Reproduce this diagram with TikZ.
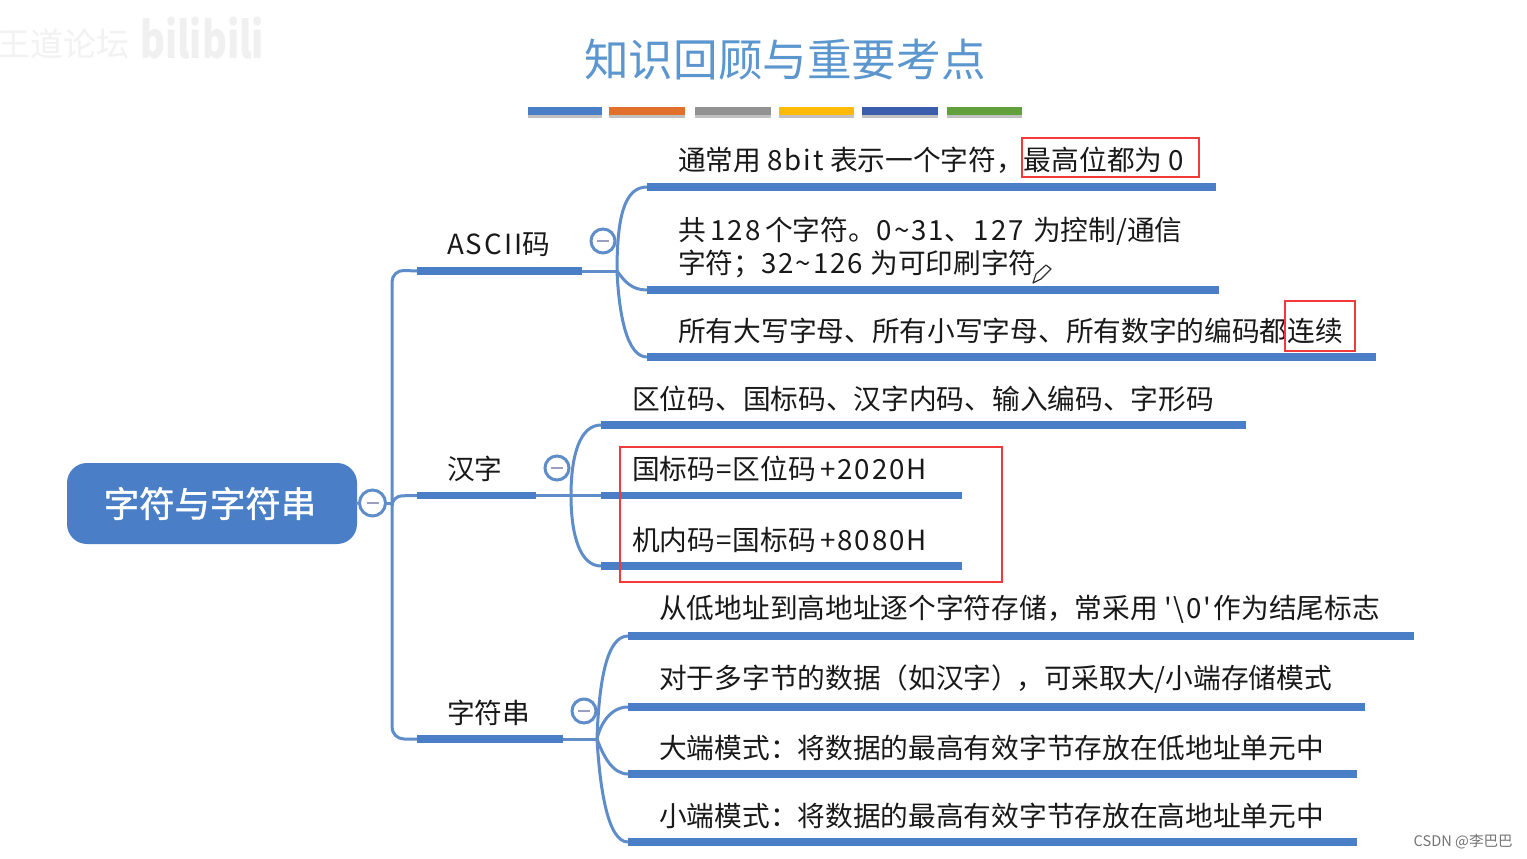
\documentclass[tikz,border=0pt]{standalone}
\usepackage{fontspec}
\setmainfont{Noto Sans CJK SC}
\newfontfamily\ls[LetterSpace=7]{Noto Sans CJK SC}
\usetikzlibrary{shadows}
\definecolor{mapblue}{HTML}{4A7FC8}
\definecolor{linkblue}{HTML}{5F8DC9}
\definecolor{titleblue}{HTML}{5B96CF}
\definecolor{boxred}{HTML}{F23A3A}
\definecolor{minusgray}{HTML}{9A9FC0}
\tikzset{
  x=1pt,y=-1pt,
  leaf/.style={anchor=west,inner sep=0pt,font=\fontsize{27.7}{33}\selectfont,align=left,text=black!90},
  branch/.style={anchor=west,inner sep=0pt,font=\fontsize{27.7}{33}\selectfont,text=black!90},
  bar/.style={line width=7.5pt,draw=mapblue},
  link/.style={line width=3pt,draw=linkblue,line cap=round},
  toggle/.style={circle,draw=linkblue,line width=3pt,fill=white,minimum size=24pt,inner sep=0pt},
  redbox/.style={draw=boxred,line width=2.8pt},
  swatch/.style={minimum height=8pt,inner sep=0pt,anchor=west,drop shadow={shadow xshift=0pt,shadow yshift=-2.5pt,opacity=.4,fill=black!60}},
}
\newcommand{\minusmark}[1]{\draw[line width=2.6pt,draw=minusgray] ([xshift=-6pt]#1.center) -- ([xshift=6pt]#1.center);}
\begin{document}
\begin{tikzpicture}
\useasboundingbox (0,0) rectangle (1527,859);
\fill[white] (0,0) rectangle (1527,859);
% watermarks
\node[inner sep=0pt,anchor=west,text=black!5,font=\fontsize{33}{33}\selectfont] (wm1) at (-3,44) {王道论坛};
\node[inner sep=0pt,anchor=west,text=black!6,xscale=.76,font=\fontsize{50}{50}\selectfont\bfseries] (wm2) at (140,38) {bilibili};
\node[inner sep=0pt,anchor=east,text=black!55,font=\fontsize{14.6}{14.6}\selectfont] (wm3) at (1513,842) {CSDN @李巴巴};
% title
\node[inner sep=0pt,text=titleblue,font=\fontsize{44.6}{50}\selectfont] (title) at (785,60) {知识回顾与重要考点};
\node[swatch,fill=mapblue,minimum width=74pt] (s1) at (528,111) {};
\node[swatch,fill={rgb,255:red,224;green,112;blue,44},minimum width=76pt] (s2) at (609,111) {};
\node[swatch,fill={rgb,255:red,146;green,146;blue,146},minimum width=76pt] (s3) at (695,111) {};
\node[swatch,fill={rgb,255:red,255;green,186;blue,10},minimum width=75pt] (s4) at (779,111) {};
\node[swatch,fill={rgb,255:red,58;green,94;blue,172},minimum width=76pt] (s5) at (862,111) {};
\node[swatch,fill={rgb,255:red,98;green,160;blue,62},minimum width=75pt] (s6) at (947,111) {};
% coordinates
\coordinate (t1) at (392,270);
\coordinate (j0) at (392,496);
\coordinate (t3) at (392,739);
\coordinate (a0) at (417,271); \coordinate (a1) at (582,271); \coordinate (aj) at (617,271);
\coordinate (h0) at (417,495.5); \coordinate (h1) at (536,495.5); \coordinate (hj) at (571,495.5);
\coordinate (c0) at (417,739); \coordinate (c1) at (563,739); \coordinate (cj) at (597,739);
\coordinate (a10) at (647,187); \coordinate (a11) at (1216,187);
\coordinate (a20) at (647,290); \coordinate (a21) at (1219,290);
\coordinate (a30) at (647,357); \coordinate (a31) at (1376,357);
\coordinate (h10) at (601,425); \coordinate (h11) at (1246,425);
\coordinate (h20) at (601,495.5); \coordinate (h21) at (962,495.5);
\coordinate (h30) at (601,566); \coordinate (h31) at (962,566);
\coordinate (c10) at (628,636); \coordinate (c11) at (1414,636);
\coordinate (c20) at (628,707); \coordinate (c21) at (1365,707);
\coordinate (c30) at (628,774); \coordinate (c31) at (1357,774);
\coordinate (c40) at (628,842); \coordinate (c41) at (1357,842);
% root
\node[fill=mapblue,rounded corners=20pt,minimum width=290pt,minimum height=81pt,inner sep=0pt] (root) at (212,503.5) {};
\node[inner sep=0pt,text=white,font=\fontsize{35.4}{36}\selectfont\addfontfeatures{FakeBold=1.2}] (roottext) at (210,503.5) {字符与字符串};
\node[toggle,minimum size=26pt] (rt) at (372.5,503) {};
% links
\draw[link] (root.east) -- (rt.west);
\draw[link] (rt.east) -- (j0 |- rt.east);
\draw[link,rounded corners=12pt] (a0) -- (t1) -- (t3) -- (c0);
\draw[link,rounded corners=10pt] (392,503) -- (392,496) -- (h0);
\draw[link] (a1) -- (aj);
\draw[link] (h1) -- (h20);
\draw[link] (c1) -- (cj);
\draw[link] (aj) .. controls (617,215) and (625,187) .. (a10);
\draw[link] (aj) .. controls (625,282) and (632,290) .. (a20);
\draw[link] (aj) .. controls (619,315) and (627,357) .. (a30);
\draw[link] (hj) .. controls (571,455) and (580,425) .. (h10);
\draw[link] (hj) .. controls (571,535) and (580,566) .. (h30);
\draw[link] (cj) .. controls (599,680) and (607,636) .. (c10);
\draw[link] (cj) .. controls (600,725) and (610,707) .. (c20);
\draw[link] (cj) .. controls (603,755) and (612,774) .. (c30);
\draw[link] (cj) .. controls (600,790) and (608,842) .. (c40);
% bars
\foreach \p/\q in {a0/a1,h0/h1,c0/c1,a10/a11,a20/a21,a30/a31,h10/h11,h20/h21,h30/h31,c10/c11,c20/c21,c30/c31,c40/c41}{\draw[bar] (\p) -- (\q);}
% toggles
\minusmark{rt}
\node[toggle] (ta) at (603,241) {}; \minusmark{ta}
\node[toggle] (th) at (557,468) {}; \minusmark{th}
\node[toggle] (tc) at (584,711) {}; \minusmark{tc}
% branch labels
\node[branch] (ascii) at (447,244.5) {{\ls ASCII}码};
\node[branch] (hanzi) at (447,468.5) {汉字};
\node[branch] (zfc) at (447,712.5) {字符串};
% leaves
\node[leaf] (l1) at (678,160.5) {通常用 {\ls 8bit} 表示一个字符，最高位都为 {\ls 0}};
\node[leaf] (l2) at (678,247.5) {共{\ls\,128\,}个字符。\kern1pt{\ls 0\textasciitilde 31}、\kern2pt{\ls 127}\kern3pt\ 为控制/通信\\字符；{\ls 32\textasciitilde 126}\kern1pt\ 为可印刷字符};
\node[leaf] (l3) at (678,330.5) {所有大写字母、所有小写字母、所有数字的编码都连续};
\node[leaf] (l4) at (632,398.5) {区位码、国标码、汉字内码、输入编码、字形码};
\node[leaf] (l5) at (632,468.5) {国标码\kern1pt{\ls =}\kern1pt 区位码{\ls\,+2020H}};
\node[leaf] (l6) at (632,539.5) {机内码\kern1pt{\ls =}\kern1pt 国标码{\ls\,+8080H}};
\node[leaf] (l7) at (659,609.5) {从低地址到高地址逐个字符存储，常采用 {\ls '\textbackslash 0'}\kern-4pt\ 作为结尾标志};
\node[leaf] (l8) at (659,679.5) {对于多字节的数据（如汉字）\kern-3pt ，可采取大/小端存储模式};
\node[leaf] (l9) at (659,747.5) {大端模式：将数据的最高有效字节存放在低地址单元中};
\node[leaf] (l10) at (659,815.5) {小端模式：将数据的最高有效字节存放在高地址单元中};
% red boxes
\draw[redbox] (1022,138) rectangle (1199,177);
\draw[redbox] (1285,301) rectangle (1355,351);
\draw[redbox] (620,447) rectangle (1002,582);
% pen cursor
\draw[line width=1.2pt,draw=black!80,fill=white,line join=round] (1033,283) -- (1036,274) -- (1046,265) -- (1051,269) -- (1041,279) -- cycle;
\end{tikzpicture}
\end{document}
